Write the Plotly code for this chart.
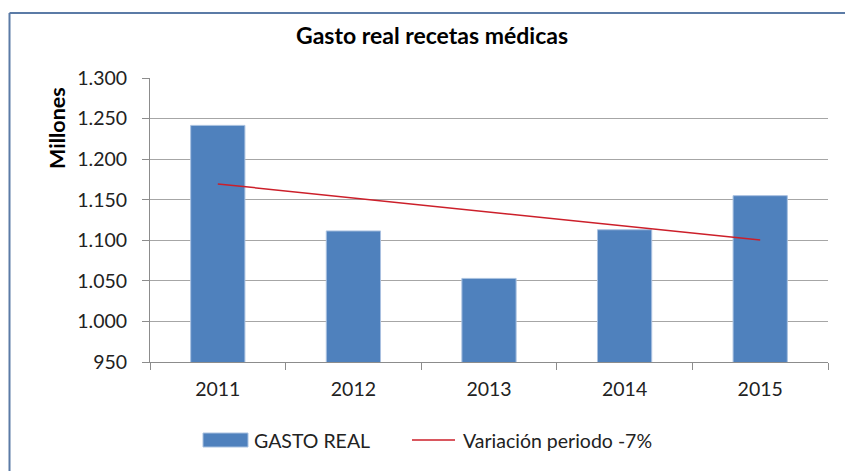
import plotly.graph_objects as go

years = ["2011", "2012", "2013", "2014", "2015"]
gasto_real = [1241.6, 1111.5, 1053.0, 1113.0, 1155.0]
trend_years = ["2011", "2015"]
trend_values = [1169.5, 1100.3]
ytick_vals = [950, 1000, 1050, 1100, 1150, 1200, 1250, 1300]
ytick_text = ["950", "1.000", "1.050", "1.100", "1.150", "1.200", "1.250", "1.300"]
bar_name = "GASTO REAL"
line_name = "Variación periodo -7%"
title_text = "Gasto real recetas médicas"
yaxis_title = "Millones"

FONT = "Lato"
BLUE = "#4F81BD"
RED = "#CC1F2A"
W, H = 845, 471
# target pixel positions of the plot area
SL, SR, ST, SB = 150, 828, 78, 362
L, T = SL, ST
R, B = W - SR, H - SB
pw, ph = SR - SL, SB - ST

def px(x):
    return (x - SL) / pw

def py(y):
    return (SB - y) / ph

fig = go.Figure()
fig.add_trace(go.Bar(
    x=years, y=gasto_real, name=bar_name, width=0.4,
    marker=dict(color=BLUE, line=dict(color="#A9C1E0", width=1)),
    showlegend=False,
))
fig.add_trace(go.Scatter(
    x=trend_years, y=trend_values, name=line_name, mode="lines",
    line=dict(color=RED, width=1.5), showlegend=False,
))

shapes = [
    # chart frame (left and top)
    dict(type="line", xref="paper", yref="paper", x0=px(9.5), x1=px(9.5), y0=py(472), y1=py(13),
         line=dict(color="#5B7BA6", width=2)),
    dict(type="line", xref="paper", yref="paper", x0=px(9.5), x1=px(845), y0=py(13), y1=py(13),
         line=dict(color="#5B7BA6", width=2)),
    # legend markers
    dict(type="rect", xref="paper", yref="paper", x0=px(203), x1=px(248), y0=py(447), y1=py(433),
         fillcolor=BLUE, line=dict(color="#A9C1E0", width=1)),
    dict(type="line", xref="paper", yref="paper", x0=px(412), x1=px(455), y0=py(440), y1=py(440),
         line=dict(color=RED, width=1.5)),
]

annotations = [
    dict(text=bar_name, xref="paper", yref="paper", x=px(252), y=py(440), xanchor="left",
         yanchor="middle", showarrow=False, font=dict(family=FONT, size=19.5, color="#222222")),
    dict(text=line_name, xref="paper", yref="paper", x=px(461), y=py(440), xanchor="left",
         yanchor="middle", showarrow=False, font=dict(family=FONT, size=19.5, color="#222222")),
    dict(text="<b>" + yaxis_title + "</b>", xref="paper", yref="paper", x=px(57), y=py(128),
         xanchor="center", yanchor="middle", textangle=-90, showarrow=False,
         font=dict(family=FONT, size=21.5, color="#000000")),
    dict(text="<b>" + title_text + "</b>", xref="paper", yref="paper", x=px(432), y=py(35),
         xanchor="center", yanchor="middle", showarrow=False,
         font=dict(family=FONT, size=23, color="#000000")),
]

fig.update_layout(
    width=W, height=H,
    margin=dict(l=L, r=R, t=T, b=B, pad=0),
    paper_bgcolor="white", plot_bgcolor="white",
    shapes=shapes, annotations=annotations,
    xaxis=dict(type="category", tickson="boundaries", ticks="outside", ticklen=7,
               tickcolor="#8C8C8C", showline=True, linecolor="#8C8C8C", linewidth=1,
               showgrid=False, ticklabelstandoff=10,
               tickfont=dict(family=FONT, size=19.5, color="#222222")),
    yaxis=dict(range=[950, 1300], tickvals=ytick_vals, ticktext=ytick_text, ticks="outside",
               ticklen=7, tickcolor="#8C8C8C", showline=True, linecolor="#8C8C8C", linewidth=1,
               showgrid=True, gridcolor="#A6A6A6", gridwidth=1, zeroline=False,
               ticklabelstandoff=11,
               tickfont=dict(family=FONT, size=19.5, color="#222222")),
)

fig.write_html(
    "out.html",
    config={"displayModeBar": False},
    post_script="document.body.style.margin='0';document.body.style.overflow='hidden';",
)
